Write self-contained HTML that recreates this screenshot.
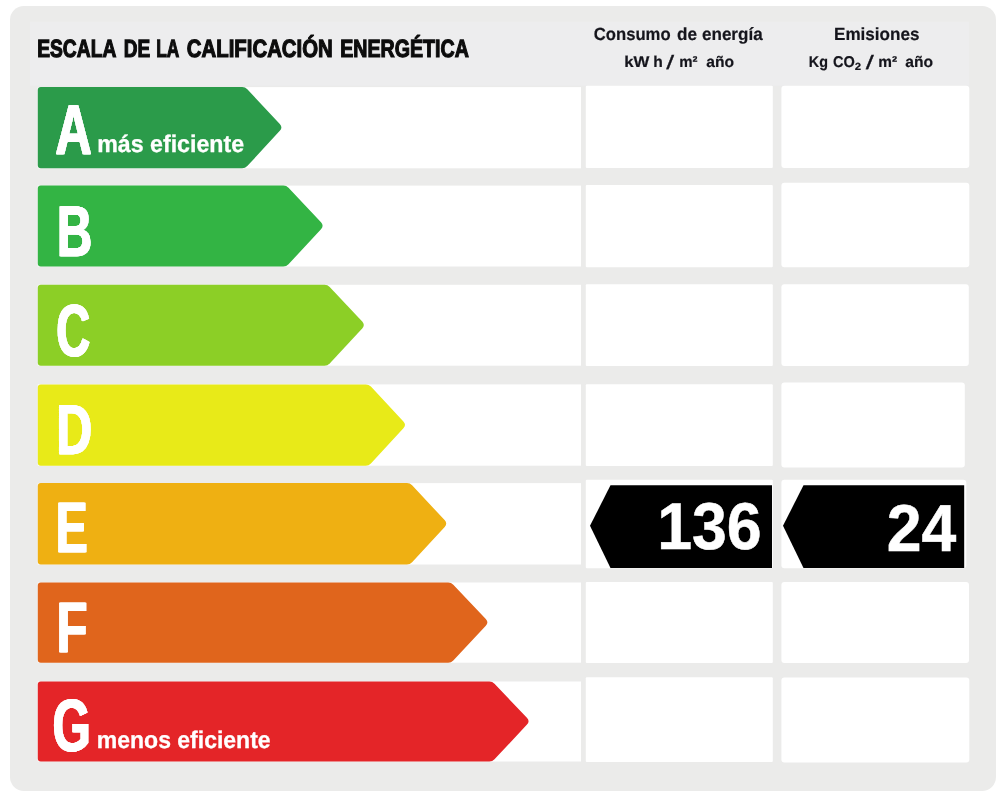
<!DOCTYPE html>
<html lang="es">
<head>
<meta charset="utf-8">
<title>Escala de la calificación energética</title>
<style>
html,body{margin:0;padding:0;background:#fff;}
body{width:1000px;height:800px;overflow:hidden;}
svg{display:block;}
text{font-family:"Liberation Sans",sans-serif;font-weight:bold;text-rendering:geometricPrecision;}
.w{fill:#fff;stroke:#fff;}
.k{fill:#0c0c0c;stroke:#0c0c0c;}
.h{fill:#15151c;stroke:#15151c;}
.n text{font-weight:normal;}
</style>
</head>
<body>
<svg width="1000" height="800" viewBox="0 0 1000 800">
  <!-- panel -->
  <rect x="10" y="6" width="986" height="785" rx="14" ry="14" fill="#ebebea"/>
  <rect x="30" y="21.6" width="939" height="64" fill="#ededee"/>
  <!-- white cells -->
  <g fill="#fff">
    <rect x="37.8" y="87.1" width="543.2" height="81.2"/>
    <rect x="37.8" y="185.6" width="543.2" height="80.9"/>
    <rect x="37.8" y="284.8" width="543.2" height="80.9"/>
    <rect x="37.8" y="384.4" width="543.2" height="81.3"/>
    <rect x="37.8" y="483.1" width="543.2" height="81.4"/>
    <rect x="37.8" y="582.5" width="543.2" height="80.2"/>
    <rect x="37.8" y="681.5" width="543.2" height="80.0"/>
    <rect x="585.8" y="85.7" width="187.0" height="82.3" rx="1"/>
    <rect x="585.8" y="185" width="187.0" height="82.3" rx="1"/>
    <rect x="585.8" y="284.2" width="187.0" height="81.8" rx="1"/>
    <rect x="585.8" y="384.2" width="187.0" height="81.8" rx="1"/>
    <rect x="585.8" y="479.8" width="187.0" height="88.5" rx="1"/>
    <rect x="585.8" y="582" width="187.0" height="81.0" rx="1"/>
    <rect x="585.8" y="677.2" width="187.0" height="84.8" rx="1"/>
    <rect x="781.4" y="85.7" width="187.9" height="82.3" rx="3"/>
    <rect x="781.4" y="182.8" width="187.9" height="84.5" rx="3"/>
    <rect x="781.4" y="284.2" width="187.4" height="81.8" rx="3"/>
    <rect x="781.4" y="382.4" width="183.4" height="85.0" rx="3"/>
    <rect x="781.4" y="479.8" width="184.9" height="88.5" rx="3"/>
    <rect x="781.4" y="582" width="187.6" height="81.0" rx="3"/>
    <rect x="781.4" y="677.6" width="187.9" height="84.9" rx="3"/>
  </g>
  <!-- coloured arrows -->
  <path d="M37.8 90.1 Q37.8 87.1 40.8 87.1 L242.2 87.1 Q245.2 87.1 247.3 89.3 L279.8 124.0 Q283.0 127.4 279.8 130.8 L247.3 166.1 Q245.2 168.3 242.1 168.3 L40.8 168.3 Q37.8 168.3 37.8 165.3Z" fill="#2b9b4a"/>
  <path d="M37.8 188.6 Q37.8 185.6 40.8 185.6 L283.4 185.6 Q286.4 185.6 288.5 187.8 L321.0 222.3 Q324.2 225.8 321.0 229.2 L288.5 264.3 Q286.4 266.5 283.3 266.5 L40.8 266.5 Q37.8 266.5 37.8 263.5Z" fill="#33b444"/>
  <path d="M37.8 287.8 Q37.8 284.8 40.8 284.8 L324.6 284.8 Q327.6 284.8 329.7 287.0 L362.2 321.5 Q365.4 324.9 362.2 328.4 L329.7 363.5 Q327.6 365.7 324.5 365.7 L40.8 365.7 Q37.8 365.7 37.8 362.7Z" fill="#8ccf26"/>
  <path d="M37.8 387.4 Q37.8 384.4 40.8 384.4 L365.8 384.4 Q368.8 384.4 370.9 386.6 L403.4 421.4 Q406.6 424.7 403.4 428.2 L370.9 463.4 Q368.8 465.7 365.7 465.7 L40.8 465.7 Q37.8 465.7 37.8 462.7Z" fill="#e8ea18"/>
  <path d="M37.8 486.1 Q37.8 483.1 40.8 483.1 L407.0 483.1 Q410.0 483.1 412.1 485.3 L444.6 520.1 Q447.8 523.5 444.7 526.9 L412.1 562.2 Q410.0 564.5 406.9 564.5 L40.8 564.5 Q37.8 564.5 37.8 561.5Z" fill="#efb012"/>
  <path d="M37.8 585.5 Q37.8 582.5 40.8 582.5 L448.2 582.5 Q451.2 582.5 453.3 584.7 L485.8 618.9 Q489.0 622.3 485.8 625.7 L453.3 660.5 Q451.2 662.7 448.2 662.7 L40.8 662.7 Q37.8 662.7 37.8 659.7Z" fill="#e0651c"/>
  <path d="M37.8 684.5 Q37.8 681.5 40.8 681.5 L489.4 681.5 Q492.4 681.5 494.5 683.7 L526.9 717.8 Q530.2 721.2 527.0 724.6 L494.5 759.3 Q492.4 761.5 489.4 761.5 L40.8 761.5 Q37.8 761.5 37.8 758.5Z" fill="#e42528"/>
  <!-- title -->
  <g class="k" stroke-width="1.2">
    <text transform="translate(37.22 56.90) scale(0.7753 1)" font-size="24.8">ESCALA</text>
    <text transform="translate(123.73 56.90) scale(0.7669 1)" font-size="24.8">DE</text>
    <text transform="translate(156.30 56.90) scale(0.6977 1)" font-size="24.8">LA</text>
    <text transform="translate(186.79 56.90) scale(0.8215 1)" font-size="24.8">CALIFICACIÓN</text>
    <text transform="translate(340.21 56.90) scale(0.7913 1)" font-size="24.8">ENERGÉTICA</text>
  </g>
  <!-- column headers -->
  <g class="h" stroke-width="0.2">
    <text transform="translate(593.73 39.80) scale(0.9475 1)" font-size="17.6">Consumo</text>
    <text transform="translate(677.01 39.80) scale(0.9744 1)" font-size="17.6">de</text>
    <text transform="translate(702.02 39.80) scale(0.9680 1)" font-size="17.6">energía</text>
    <text transform="translate(624.19 66.80) scale(1.0769 1)" font-size="15.6">kW</text>
    <text transform="translate(653.25 66.80) scale(1.0000 1)" font-size="15.6">h</text>
    <text transform="translate(679.28 66.80) scale(0.9589 1)" font-size="15.6">m²</text>
    <text transform="translate(706.25 66.80) scale(1.0000 1)" font-size="15.6">año</text>
    <text transform="translate(834.03 39.80) scale(0.9711 1)" font-size="17.6">Emisiones</text>
    <text transform="translate(808.81 66.80) scale(0.9195 1)" font-size="15.6">Kg</text>
    <text transform="translate(833.03 66.80) scale(0.9333 1)" font-size="15.6">CO</text>
    <text transform="translate(854.73 69.50) scale(1.0857 1)" font-size="10.5">2</text>
    <text transform="translate(878.26 66.80) scale(0.9863 1)" font-size="15.6">m²</text>
    <text transform="translate(905.25 66.80) scale(1.0000 1)" font-size="15.6">año</text>
  </g>
  <!-- slashes -->
  <g class="h n" stroke-width="0.3">
    <text transform="translate(666.36 69.10) scale(1.4435 1)" font-size="19.5">/</text>
    <text transform="translate(865.87 69.10) scale(1.4783 1)" font-size="19.5">/</text>
  </g>
  <!-- letters -->
  <g class="w" stroke-width="0.3" style="filter:drop-shadow(0.9px 0 0 #fff) drop-shadow(-0.9px 0 0 #fff)">
    <text transform="translate(55.83 154.35) scale(0.7194 1)" font-size="70.38">A</text>
    <text transform="translate(57.62 255.59) scale(0.6796 1)" font-size="71.84">B</text>
    <text transform="translate(56.64 355.79) scale(0.6355 1)" font-size="73.95">C</text>
    <text transform="translate(56.76 453.74) scale(0.7012 1)" font-size="70.97">D</text>
    <text transform="translate(56.14 552.13) scale(0.6676 1)" font-size="71.41">E</text>
    <text transform="translate(57.04 651.74) scale(0.7108 1)" font-size="71.23">F</text>
    <text transform="translate(53.01 750.79) scale(0.6619 1)" font-size="74.20">G</text>
  </g>
  <!-- efficiency labels -->
  <g class="w" stroke-width="0.3">
    <text transform="translate(97.19 152.35) scale(0.9664 1)" font-size="24">más eficiente</text>
    <text transform="translate(96.80 748.05) scale(0.9582 1)" font-size="24">menos eficiente</text>
  </g>
  <!-- black value arrows -->
  <path d="M610.5 485.3 H772 V568 H610.5 L590 525.8 Z" fill="#000"/>
  <path d="M803.5 485.3 H964.2 V568 H803.5 L783 525.8 Z" fill="#000"/>
  <!-- values -->
  <g class="w" stroke-width="0.5">
    <text transform="translate(657.15 549.05) scale(0.9470 1)" font-size="66.2">136</text>
    <text transform="translate(886.82 551.25) scale(0.9422 1)" font-size="66.4">24</text>
  </g>
</svg>
</body>
</html>
